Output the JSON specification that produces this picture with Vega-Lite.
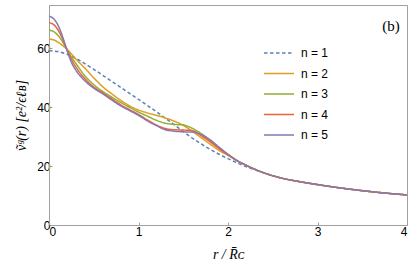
{
  "$schema": "https://vega.github.io/schema/vega-lite/v6.json",
  "width": 358,
  "height": 220,
  "autosize": "none",
  "padding": {"left": 49, "top": 5, "right": 9, "bottom": 50},
  "background": "white",
  "config": {
    "view": {"stroke": "#a0a0a0", "strokeWidth": 1},
    "axis": {
      "labelFont": "Liberation Sans", "labelFontSize": 12, "labelColor": "black",
      "domainColor": "#a0a0a0", "tickColor": "#a0a0a0", "tickSize": -3,
      "grid": false, "titleFont": "Liberation Serif", "titleFontStyle": "italic",
      "titleFontWeight": "normal", "titleFontSize": 14, "titleColor": "black"
    },
    "legend": {
      "orient": "none", "legendX": 214, "legendY": 40, "padding": 0,
      "symbolType": "stroke", "symbolSize": 900, "symbolStrokeWidth": 1.5,
      "labelFont": "Liberation Sans", "labelFontSize": 12, "labelColor": "black",
      "clipHeight": 16, "rowPadding": 4.5, "labelOffset": 6
    }
  },
  "datasets": {
    "curves": [
      {"n":"n = 1","r":0,"v":59.1},{"n":"n = 1","r":0.1,"v":58.8},{"n":"n = 1","r":0.2,"v":57.9},{"n":"n = 1","r":0.3,"v":56.5},{"n":"n = 1","r":0.4,"v":54.7},{"n":"n = 1","r":0.5,"v":52.8},{"n":"n = 1","r":0.6,"v":50.8},{"n":"n = 1","r":0.7,"v":48.7},{"n":"n = 1","r":0.8,"v":46.7},{"n":"n = 1","r":0.9,"v":44.6},{"n":"n = 1","r":1.0,"v":42.6},{"n":"n = 1","r":1.1,"v":40.5},{"n":"n = 1","r":1.2,"v":38.4},{"n":"n = 1","r":1.3,"v":36.2},{"n":"n = 1","r":1.4,"v":34.0},{"n":"n = 1","r":1.5,"v":31.7},{"n":"n = 1","r":1.6,"v":29.5},{"n":"n = 1","r":1.7,"v":27.5},{"n":"n = 1","r":1.8,"v":25.7},{"n":"n = 1","r":1.9,"v":24.0},{"n":"n = 1","r":2.0,"v":22.5},{"n":"n = 1","r":2.1,"v":21.1},{"n":"n = 1","r":2.2,"v":19.8},{"n":"n = 1","r":2.3,"v":18.7},{"n":"n = 1","r":2.4,"v":17.7},{"n":"n = 1","r":2.6,"v":15.9},{"n":"n = 1","r":2.8,"v":14.7},{"n":"n = 1","r":3.0,"v":13.7},{"n":"n = 1","r":3.2,"v":12.8},{"n":"n = 1","r":3.4,"v":12.0},{"n":"n = 1","r":3.6,"v":11.3},{"n":"n = 1","r":3.8,"v":10.7},{"n":"n = 1","r":4.0,"v":10.2},
      {"n":"n = 2","r":0,"v":63.0},{"n":"n = 2","r":0.05,"v":62.8},{"n":"n = 2","r":0.1,"v":62.0},{"n":"n = 2","r":0.15,"v":60.9},{"n":"n = 2","r":0.2,"v":59.6},{"n":"n = 2","r":0.25,"v":58.0},{"n":"n = 2","r":0.3,"v":56.3},{"n":"n = 2","r":0.4,"v":53.2},{"n":"n = 2","r":0.5,"v":49.9},{"n":"n = 2","r":0.6,"v":46.9},{"n":"n = 2","r":0.7,"v":44.5},{"n":"n = 2","r":0.8,"v":42.3},{"n":"n = 2","r":0.9,"v":40.4},{"n":"n = 2","r":1.0,"v":39.0},{"n":"n = 2","r":1.1,"v":38.0},{"n":"n = 2","r":1.2,"v":37.2},{"n":"n = 2","r":1.3,"v":36.3},{"n":"n = 2","r":1.4,"v":35.2},{"n":"n = 2","r":1.5,"v":33.8},{"n":"n = 2","r":1.6,"v":31.8},{"n":"n = 2","r":1.7,"v":29.6},{"n":"n = 2","r":1.8,"v":27.4},{"n":"n = 2","r":1.9,"v":25.3},{"n":"n = 2","r":2.0,"v":23.6},{"n":"n = 2","r":2.1,"v":21.8},{"n":"n = 2","r":2.2,"v":20.3},{"n":"n = 2","r":2.3,"v":18.9},{"n":"n = 2","r":2.4,"v":17.7},{"n":"n = 2","r":2.6,"v":15.9},{"n":"n = 2","r":2.8,"v":14.7},{"n":"n = 2","r":3.0,"v":13.7},{"n":"n = 2","r":3.2,"v":12.8},{"n":"n = 2","r":3.4,"v":12.0},{"n":"n = 2","r":3.6,"v":11.3},{"n":"n = 2","r":3.8,"v":10.7},{"n":"n = 2","r":4.0,"v":10.2},
      {"n":"n = 3","r":0,"v":66.1},{"n":"n = 3","r":0.05,"v":65.6},{"n":"n = 3","r":0.1,"v":64.3},{"n":"n = 3","r":0.15,"v":62.2},{"n":"n = 3","r":0.2,"v":59.6},{"n":"n = 3","r":0.25,"v":57.0},{"n":"n = 3","r":0.3,"v":54.8},{"n":"n = 3","r":0.4,"v":50.6},{"n":"n = 3","r":0.5,"v":47.6},{"n":"n = 3","r":0.6,"v":45.3},{"n":"n = 3","r":0.7,"v":43.4},{"n":"n = 3","r":0.8,"v":41.6},{"n":"n = 3","r":0.9,"v":39.9},{"n":"n = 3","r":1.0,"v":38.3},{"n":"n = 3","r":1.1,"v":36.9},{"n":"n = 3","r":1.2,"v":35.5},{"n":"n = 3","r":1.3,"v":34.5},{"n":"n = 3","r":1.4,"v":34.1},{"n":"n = 3","r":1.5,"v":33.9},{"n":"n = 3","r":1.6,"v":32.8},{"n":"n = 3","r":1.7,"v":31.0},{"n":"n = 3","r":1.8,"v":28.6},{"n":"n = 3","r":1.9,"v":26.1},{"n":"n = 3","r":2.0,"v":23.9},{"n":"n = 3","r":2.1,"v":21.9},{"n":"n = 3","r":2.2,"v":20.3},{"n":"n = 3","r":2.3,"v":18.9},{"n":"n = 3","r":2.4,"v":17.7},{"n":"n = 3","r":2.6,"v":15.9},{"n":"n = 3","r":2.8,"v":14.7},{"n":"n = 3","r":3.0,"v":13.7},{"n":"n = 3","r":3.2,"v":12.8},{"n":"n = 3","r":3.4,"v":12.0},{"n":"n = 3","r":3.6,"v":11.3},{"n":"n = 3","r":3.8,"v":10.7},{"n":"n = 3","r":4.0,"v":10.2},
      {"n":"n = 4","r":0,"v":68.6},{"n":"n = 4","r":0.05,"v":68.0},{"n":"n = 4","r":0.1,"v":66.2},{"n":"n = 4","r":0.15,"v":63.2},{"n":"n = 4","r":0.2,"v":59.5},{"n":"n = 4","r":0.25,"v":56.2},{"n":"n = 4","r":0.3,"v":53.6},{"n":"n = 4","r":0.4,"v":49.6},{"n":"n = 4","r":0.5,"v":46.8},{"n":"n = 4","r":0.6,"v":44.8},{"n":"n = 4","r":0.7,"v":42.8},{"n":"n = 4","r":0.8,"v":40.8},{"n":"n = 4","r":0.9,"v":39.1},{"n":"n = 4","r":1.0,"v":37.5},{"n":"n = 4","r":1.1,"v":35.6},{"n":"n = 4","r":1.2,"v":33.9},{"n":"n = 4","r":1.3,"v":32.7},{"n":"n = 4","r":1.4,"v":32.3},{"n":"n = 4","r":1.5,"v":32.2},{"n":"n = 4","r":1.6,"v":32.0},{"n":"n = 4","r":1.7,"v":30.3},{"n":"n = 4","r":1.8,"v":28.2},{"n":"n = 4","r":1.9,"v":25.9},{"n":"n = 4","r":2.0,"v":23.8},{"n":"n = 4","r":2.1,"v":21.8},{"n":"n = 4","r":2.2,"v":20.3},{"n":"n = 4","r":2.3,"v":18.9},{"n":"n = 4","r":2.4,"v":17.7},{"n":"n = 4","r":2.6,"v":15.9},{"n":"n = 4","r":2.8,"v":14.7},{"n":"n = 4","r":3.0,"v":13.7},{"n":"n = 4","r":3.2,"v":12.8},{"n":"n = 4","r":3.4,"v":12.0},{"n":"n = 4","r":3.6,"v":11.3},{"n":"n = 4","r":3.8,"v":10.7},{"n":"n = 4","r":4.0,"v":10.2},
      {"n":"n = 5","r":0,"v":70.8},{"n":"n = 5","r":0.05,"v":70.0},{"n":"n = 5","r":0.1,"v":67.8},{"n":"n = 5","r":0.15,"v":64.0},{"n":"n = 5","r":0.2,"v":59.3},{"n":"n = 5","r":0.25,"v":55.2},{"n":"n = 5","r":0.3,"v":52.5},{"n":"n = 5","r":0.4,"v":48.9},{"n":"n = 5","r":0.5,"v":46.4},{"n":"n = 5","r":0.6,"v":44.5},{"n":"n = 5","r":0.7,"v":42.4},{"n":"n = 5","r":0.8,"v":40.4},{"n":"n = 5","r":0.9,"v":38.8},{"n":"n = 5","r":1.0,"v":37.2},{"n":"n = 5","r":1.1,"v":35.3},{"n":"n = 5","r":1.2,"v":33.7},{"n":"n = 5","r":1.3,"v":32.3},{"n":"n = 5","r":1.4,"v":31.8},{"n":"n = 5","r":1.5,"v":31.6},{"n":"n = 5","r":1.6,"v":31.5},{"n":"n = 5","r":1.7,"v":30.7},{"n":"n = 5","r":1.8,"v":28.9},{"n":"n = 5","r":1.9,"v":26.4},{"n":"n = 5","r":2.0,"v":24.0},{"n":"n = 5","r":2.1,"v":21.9},{"n":"n = 5","r":2.2,"v":20.3},{"n":"n = 5","r":2.3,"v":18.9},{"n":"n = 5","r":2.4,"v":17.7},{"n":"n = 5","r":2.6,"v":15.9},{"n":"n = 5","r":2.8,"v":14.7},{"n":"n = 5","r":3.0,"v":13.7},{"n":"n = 5","r":3.2,"v":12.8},{"n":"n = 5","r":3.4,"v":12.0},{"n":"n = 5","r":3.6,"v":11.3},{"n":"n = 5","r":3.8,"v":10.7},{"n":"n = 5","r":4.0,"v":10.2}
    ],
    "panel": [{"r": 3.92, "v": 67.6, "t": "(b)"}]
  },
  "layer": [
    {
      "data": {"name": "curves"},
      "mark": {"type": "line", "interpolate": "monotone", "strokeWidth": 1.5, "clip": true},
      "encoding": {
        "x": {"field": "r", "type": "quantitative", "scale": {"domain": [0, 4], "nice": false},
              "axis": {"values": [0, 1, 2, 3, 4], "format": "d", "title": "r / R̄ᴄ", "labelPadding": 4, "titlePadding": 10}},
        "y": {"field": "v", "type": "quantitative", "scale": {"domain": [0, 74.6], "nice": false, "zero": true},
              "axis": {"values": [0, 20, 40, 60], "format": "d", "title": "ṽᵍ(r) [e²/ϵℓʙ]", "labelPadding": 2, "titlePadding": 8}},
        "color": {"field": "n", "type": "nominal",
                  "scale": {"domain": ["n = 1","n = 2","n = 3","n = 4","n = 5"], "range": ["#5E81B5","#E19C24","#8FB032","#EB6235","#8778B3"]},
                  "legend": {"title": null}},
        "strokeDash": {"field": "n", "type": "nominal",
                  "scale": {"domain": ["n = 1","n = 2","n = 3","n = 4","n = 5"], "range": [[3.5,2.5],[1,0],[1,0],[1,0],[1,0]]},
                  "legend": {"title": null}}
      }
    },
    {
      "data": {"name": "panel"},
      "mark": {"type": "text", "align": "right", "baseline": "middle", "font": "Liberation Serif", "fontSize": 15, "color": "black"},
      "encoding": {
        "x": {"field": "r", "type": "quantitative"},
        "y": {"field": "v", "type": "quantitative"},
        "text": {"field": "t"}
      }
    }
  ]
}
